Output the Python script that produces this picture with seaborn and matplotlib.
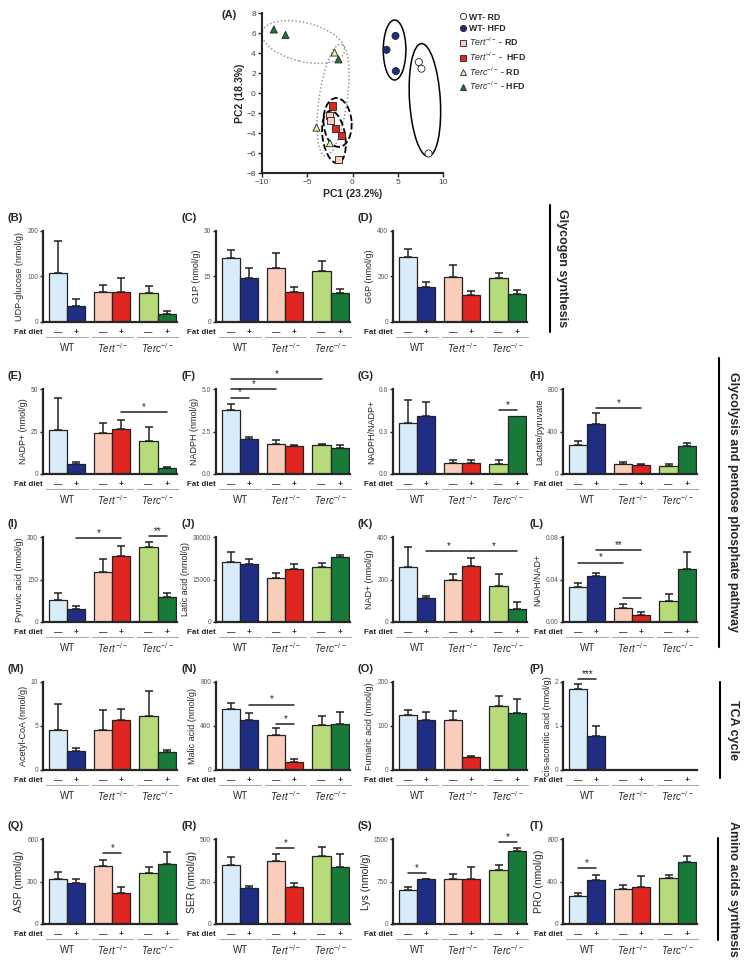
import numpy as np
import pandas as pd
import matplotlib
matplotlib.use('Agg')
import matplotlib.pyplot as plt
import seaborn as sns
from matplotlib.patches import Ellipse
from matplotlib.lines import Line2D

# Style
sns.set_style('ticks')
plt.rcParams['font.family'] = ['Liberation Sans', 'DejaVu Sans']
plt.rcParams['mathtext.fontset'] = 'custom'
plt.rcParams['mathtext.rm'] = 'Liberation Sans'
plt.rcParams['mathtext.it'] = 'Liberation Sans:italic'
plt.rcParams['mathtext.bf'] = 'Liberation Sans:bold'

# ---------------- data ----------------
genotypes = ['WT', 'Tert', 'Terc']
diets = ['RD', 'HFD']
group_labels = ['WT', r'$\it{Tert}^{-/-}$', r'$\it{Terc}^{-/-}$']
bar_colors = ['#d9ecf9', '#1f2d84', '#f9cdb9', '#e1251f', '#b7db7a', '#187a38']

# PCA scores (PC1, PC2) per group
pca_groups = ['WT- RD', 'WT- HFD', 'Tert RD', 'Tert HFD', 'Terc RD', 'Terc HFD']
pc1_wt_rd = [7.33, 7.62, 8.40]
pc2_wt_rd = [3.09, 2.43, -6.05]
pc1_wt_hfd = [4.75, 3.76, 4.79]
pc2_wt_hfd = [5.71, 4.32, 2.19]
pc1_tert_rd = [-2.54, -2.43, -1.58]
pc2_tert_rd = [-2.26, -2.76, -6.61]
pc1_tert_hfd = [-2.21, -1.88, -1.18]
pc2_tert_hfd = [-1.30, -3.55, -4.22]
pc1_terc_rd = [-1.99, -3.98, -2.50]
pc2_terc_rd = [4.05, -3.46, -5.02]
pc1_terc_hfd = [-8.69, -7.40, -1.55]
pc2_terc_hfd = [6.35, 5.81, 3.36]

# Bar panels: mean and SEM, order WT RD, WT HFD, Tert RD, Tert HFD, Terc RD, Terc HFD
udp_glucose = [107, 35, 65, 65, 63, 18]
udp_glucose_err = [72, 15, 16, 31, 16, 6]
g1p = [21.1, 14.4, 17.9, 10.0, 16.7, 9.6]
g1p_err = [2.7, 3.5, 4.8, 1.5, 3.5, 1.3]
g6p = [285, 156, 199, 118, 194, 125]
g6p_err = [37, 19, 51, 20, 22, 16]
nadp = [26, 5.6, 24.0, 26.4, 19.2, 3.7]
nadp_err = [19, 1.6, 6, 5.6, 8.3, 0.6]
nadph = [3.75, 2.04, 1.79, 1.67, 1.71, 1.52]
nadph_err = [0.37, 0.15, 0.19, 0.06, 0.06, 0.21]
nadph_ratio = [0.36, 0.41, 0.081, 0.081, 0.074, 0.41]
nadph_ratio_err = [0.16, 0.10, 0.016, 0.018, 0.023, 0.0]
lac_pyr = [275, 469, 94, 84, 78, 259]
lac_pyr_err = [37, 109, 22, 10, 13, 31]
pyruvic = [79, 46, 177, 234, 263, 89]
pyruvic_err = [24, 9, 44, 35, 20, 14]
latic = [21250, 20420, 15700, 18650, 19480, 23020]
latic_err = [3550, 1660, 1420, 1650, 1180, 580]
nad = [257, 112, 200, 265, 170, 63]
nad_err = [97, 11, 24, 34, 54, 31]
nadh_ratio = [0.0333, 0.0433, 0.013, 0.0067, 0.0197, 0.05]
nadh_ratio_err = [0.0037, 0.0031, 0.0037, 0.003, 0.0067, 0.0158]
acetyl = [4.6, 2.2, 4.6, 5.7, 6.15, 2.1]
acetyl_err = [2.9, 0.3, 2.2, 1.2, 2.85, 0.2]
malic = [553, 458, 315, 70, 412, 415]
malic_err = [52, 64, 67, 31, 80, 113]
fumaric = [125, 114, 113, 28.5, 146, 129]
fumaric_err = [12, 18, 22, 3.5, 23, 33]
cis_aconitic = [1.84, 0.77, 0, 0, 0, 0]
cis_aconitic_err = [0.11, 0.23, 0, 0, 0, 0]
asp = [316, 286, 410, 218, 363, 422]
asp_err = [50, 30, 45, 44, 40, 89]
ser = [350, 213, 370, 217, 400, 335]
ser_err = [46, 13, 39, 25, 53, 78]
lys = [608, 786, 786, 797, 945, 1288]
lys_err = [42, 11, 88, 207, 95, 59]
pro = [266, 416, 328, 344, 431, 588]
pro_err = [25, 46, 41, 109, 31, 56]

# ---------------- figure ----------------
W, H = 751, 964
fig = plt.figure(figsize=(W / 100, H / 100), dpi=100)


def px_axes(x, top, w, h):
    return fig.add_axes([x / W, 1 - (top + h) / H, w / W, h / H])


# Panel A: PCA
axA = px_axes(262, 13, 181, 160)
pca_df = pd.DataFrame({
    'pc1': pc1_wt_rd + pc1_wt_hfd + pc1_tert_rd + pc1_tert_hfd + pc1_terc_rd + pc1_terc_hfd,
    'pc2': pc2_wt_rd + pc2_wt_hfd + pc2_tert_rd + pc2_tert_hfd + pc2_terc_rd + pc2_terc_hfd,
    'group': np.repeat(pca_groups, 3),
})
pca_palette = {'WT- RD': '#ffffff', 'WT- HFD': '#1f2d84', 'Tert RD': '#f9cdb9',
               'Tert HFD': '#e1251f', 'Terc RD': '#e6efa8', 'Terc HFD': '#187a38'}
pca_markers = {'WT- RD': 'o', 'WT- HFD': 'o', 'Tert RD': 's',
               'Tert HFD': 's', 'Terc RD': '^', 'Terc HFD': '^'}
sns.scatterplot(data=pca_df, x='pc1', y='pc2', hue='group', style='group',
                palette=pca_palette, markers=pca_markers, s=26, edgecolor='#222222',
                linewidth=0.6, legend=False, ax=axA, zorder=3)

# group ellipses
ells = [((-5.45, 5.1), 9.3, 3.9, -12, ':', '#888888', 1.0),
        ((-2.15, -0.7), 11.3, 3.1, 81, ':', '#888888', 1.0),
        ((-2.05, -4.4), 5.3, 2.5, 100, '--', 'black', 1.3),
        ((-1.65, -2.95), 4.9, 3.1, 95, '--', 'black', 1.3),
        ((4.65, 4.3), 6.0, 2.5, 90, '-', 'black', 1.1),
        ((8.0, -0.7), 11.3, 3.4, 94, '-', 'black', 1.1)]
for c, w, h, ang, ls, col, lw in ells:
    axA.add_patch(Ellipse(c, w, h, angle=ang, fill=False, linestyle=ls,
                          edgecolor=col, linewidth=lw, zorder=2))

axA.set_xlim(-10, 10)
axA.set_ylim(-8, 8)
axA.set_xticks([-10, -5, 0, 5, 10])
axA.set_yticks(range(-8, 9, 2))
axA.tick_params(labelsize=6, labelcolor='#444444', length=3, width=1, pad=1.5)
axA.set_xlabel('PC1 (23.2%)', fontsize=7.5, fontweight='bold', labelpad=2)
axA.set_ylabel('PC2 (18.3%)', fontsize=7.5, fontweight='bold', labelpad=1)
for s in ['left', 'bottom']:
    axA.spines[s].set_linewidth(1.5)
sns.despine(ax=axA)
fig.text(222 / W, 1 - 15 / H, '(A)', fontsize=8, fontweight='bold', ha='left', va='center')

leg_labels = ['WT- RD', 'WT- HFD', r'$\it{Tert}^{-/-}$ - RD', r'$\it{Tert}^{-/-}$ -  HFD',
              r'$\it{Terc}^{-/-}$ - RD', r'$\it{Terc}^{-/-}$ - HFD']
handles = [Line2D([], [], linestyle='none', marker=pca_markers[g], markersize=4.5,
                  markerfacecolor=pca_palette[g], markeredgecolor='#222222',
                  markeredgewidth=0.6) for g in pca_groups]
axA.legend(handles, leg_labels, loc='upper left', bbox_to_anchor=(455 / W, 1 - 9 / H),
           bbox_transform=fig.transFigure, frameon=False, prop={'size': 6.3, 'weight': 'bold'},
           handletextpad=0.2, labelspacing=0.28, borderaxespad=0, handlelength=1.0)

# Bar panels
col_x = [43, 216, 393, 563]
row_top = [231, 389, 537, 682, 839]
row_h = [91, 85, 85, 88, 85]
label_x = [8, 182, 357, 530]
panel_w = 134

panels = [
    ('B', 0, 0, 'UDP-glucose (nmol/g)', udp_glucose, udp_glucose_err, 200, ['0', '100', '200'], []),
    ('C', 0, 1, 'G1P (nmol/g)', g1p, g1p_err, 30, ['0', '15', '30'], []),
    ('D', 0, 2, 'G6P (nmol/g)', g6p, g6p_err, 400, ['0', '200', '400'], []),
    ('E', 1, 0, 'NADP+ (nmol/g)', nadp, nadp_err, 50, ['0', '25', '50'], [(3, 5, 36.5, '*')]),
    ('F', 1, 1, 'NADPH (nmol/g)', nadph, nadph_err, 5.0, ['0.0', '2.5', '5.0'],
     [(0, 1, 4.5, '*'), (0, 2, 5.0, '*'), (0, 4, 5.57, '*')]),
    ('G', 1, 2, 'NADPH/NADP+', nadph_ratio, nadph_ratio_err, 0.6, ['0.0', '0.3', '0.6'],
     [(4, 5, 0.45, '*')]),
    ('H', 1, 3, 'Lactate/pyruvate', lac_pyr, lac_pyr_err, 800, ['0', '400', '800'],
     [(1, 3, 625, '*')]),
    ('I', 2, 0, 'Pyruvic acid (nmol/g)', pyruvic, pyruvic_err, 300, ['0', '150', '300'],
     [(1, 3, 296, '*'), (4, 5, 304, '**')]),
    ('J', 2, 1, 'Latic acid (nmol/g)', latic, latic_err, 30000, ['0', '15000', '30000'], []),
    ('K', 2, 2, 'NAD+ (nmol/g)', nad, nad_err, 400, ['0', '200', '400'],
     [(1, 3, 335, '*'), (3, 5, 335, '*')]),
    ('L', 2, 3, 'NADH/NAD+', nadh_ratio, nadh_ratio_err, 0.08, ['0.00', '0.04', '0.08'],
     [(0, 2, 0.056, '*'), (1, 3, 0.068, '**'), (2, 3, 0.0227, '')]),
    ('M', 3, 0, 'Acetyl-CoA (nmol/g)', acetyl, acetyl_err, 10, ['0', '5', '10'], []),
    ('N', 3, 1, 'Malic acid (nmol/g)', malic, malic_err, 800, ['0', '400', '800'],
     [(1, 3, 595, '*'), (2, 3, 415, '*')]),
    ('O', 3, 2, 'Fumaric acid (nmol/g)', fumaric, fumaric_err, 200, ['0', '100', '200'], []),
    ('P', 3, 3, 'cis-aconitic acid (nmol/g)', cis_aconitic, cis_aconitic_err, 2, ['0', '1', '2'],
     [(0, 1, 2.06, '***')]),
    ('Q', 4, 0, 'ASP (nmol/g)', asp, asp_err, 600, ['0', '300', '600'], [(2, 3, 499, '*')]),
    ('R', 4, 1, 'SER (nmol/g)', ser, ser_err, 500, ['0', '250', '500'], [(2, 3, 445, '*')]),
    ('S', 4, 2, 'Lys (nmol/g)', lys, lys_err, 1500, ['0', '750', '1500'],
     [(0, 1, 904, '*'), (4, 5, 1453, '*')]),
    ('T', 4, 3, 'PRO (nmol/g)', pro, pro_err, 800, ['0', '400', '800'], [(0, 1, 525, '*')]),
]

for letter, r, c, ylab, vals, errs, ymax, tlabels, sigs in panels:
    h = row_h[r]
    ax = px_axes(col_x[c], row_top[r], panel_w, h)
    df = pd.DataFrame({'genotype': np.repeat(genotypes, 2),
                       'diet': diets * 3,
                       'value': vals})
    sns.barplot(data=df, x='genotype', y='value', hue='diet', order=genotypes,
                hue_order=diets, errorbar=None, legend=False, width=0.8, saturation=1,
                edgecolor='#222222', linewidth=0.9, ax=ax)
    centers = [0] * 6
    for k, cont in enumerate(ax.containers):
        for g, patch in enumerate(cont):
            patch.set_facecolor(bar_colors[g * 2 + k])
            centers[g * 2 + k] = patch.get_x() + patch.get_width() / 2
    for i in range(6):
        if errs[i] > 0:
            ax.errorbar(centers[i], vals[i], yerr=[[0], [errs[i]]], fmt='none',
                        ecolor='#222222', elinewidth=1.1, capsize=3.2, capthick=1.1, zorder=1)
    ax.set_xlim(-0.535, 2.43)
    ax.set_ylim(0, ymax)
    ax.set_yticks([0, ymax / 2, ymax])
    ax.set_yticklabels(tlabels)
    ax.set_xticks([])
    ax.set_xlabel('')
    ylab_size = 7.5 if r == 4 else 6.5
    ax.set_ylabel(ylab, fontsize=ylab_size, labelpad=2)
    ax.tick_params(axis='y', labelsize=4.8, labelcolor='#555555', length=2.5, width=1, pad=1)
    for s in ['left', 'bottom']:
        ax.spines[s].set_linewidth(1.6)
    sns.despine(ax=ax)

    # diet signs, group lines and labels
    tr = ax.get_xaxis_transform()
    for i in range(6):
        ax.annotate('\u2014' if i % 2 == 0 else '+', xy=(centers[i], 0), xycoords=tr,
                    xytext=(0, -7.5), textcoords='offset points', ha='center', va='center',
                    fontsize=6, fontweight='bold', annotation_clip=False)
    ax.annotate('Fat diet', xy=(0, 0), xycoords='axes fraction', xytext=(0, -7.5),
                textcoords='offset points', ha='right', va='center', fontsize=5.8,
                fontweight='bold', annotation_clip=False)
    for g in range(3):
        ax.plot([g - 0.46, g + 0.46], [-15 / h, -15 / h], transform=tr, color='#aaaaaa',
                lw=0.8, clip_on=False)
        ax.annotate(group_labels[g], xy=(g, 0), xycoords=tr, xytext=(0, -18.5),
                    textcoords='offset points', ha='center', va='center', fontsize=7,
                    annotation_clip=False)

    # significance bars
    for i, j, y, txt in sigs:
        ax.plot([centers[i], centers[j]], [y, y], color='#222222', lw=1.1, clip_on=False)
        if txt:
            ax.text((centers[i] + centers[j]) / 2, y, txt, ha='center', va='bottom',
                    fontsize=7, clip_on=False)

    fig.text(label_x[c] / W, 1 - (row_top[r] - 13) / H, '(' + letter + ')', fontsize=8,
             fontweight='bold', ha='left', va='center')

# Section labels on the right
sections = [('Glycogen synthesis', 550, 562, 205, 332),
            ('Glycolysis and pentose phosphate pathway', 719, 733, 358, 647),
            ('TCA cycle', 720, 733, 682, 778),
            ('Amino acids synthesis', 718, 733, 838, 940)]
for txt, lx, tx, y0, y1 in sections:
    fig.add_artist(Line2D([lx / W, lx / W], [1 - y0 / H, 1 - y1 / H], color='black', lw=1.5))
    fig.text(tx / W, 1 - ((y0 + y1) / 2) / H, txt, rotation=-90, fontsize=9,
             fontweight='bold', ha='center', va='center')

fig.savefig('out.png', dpi=100)
